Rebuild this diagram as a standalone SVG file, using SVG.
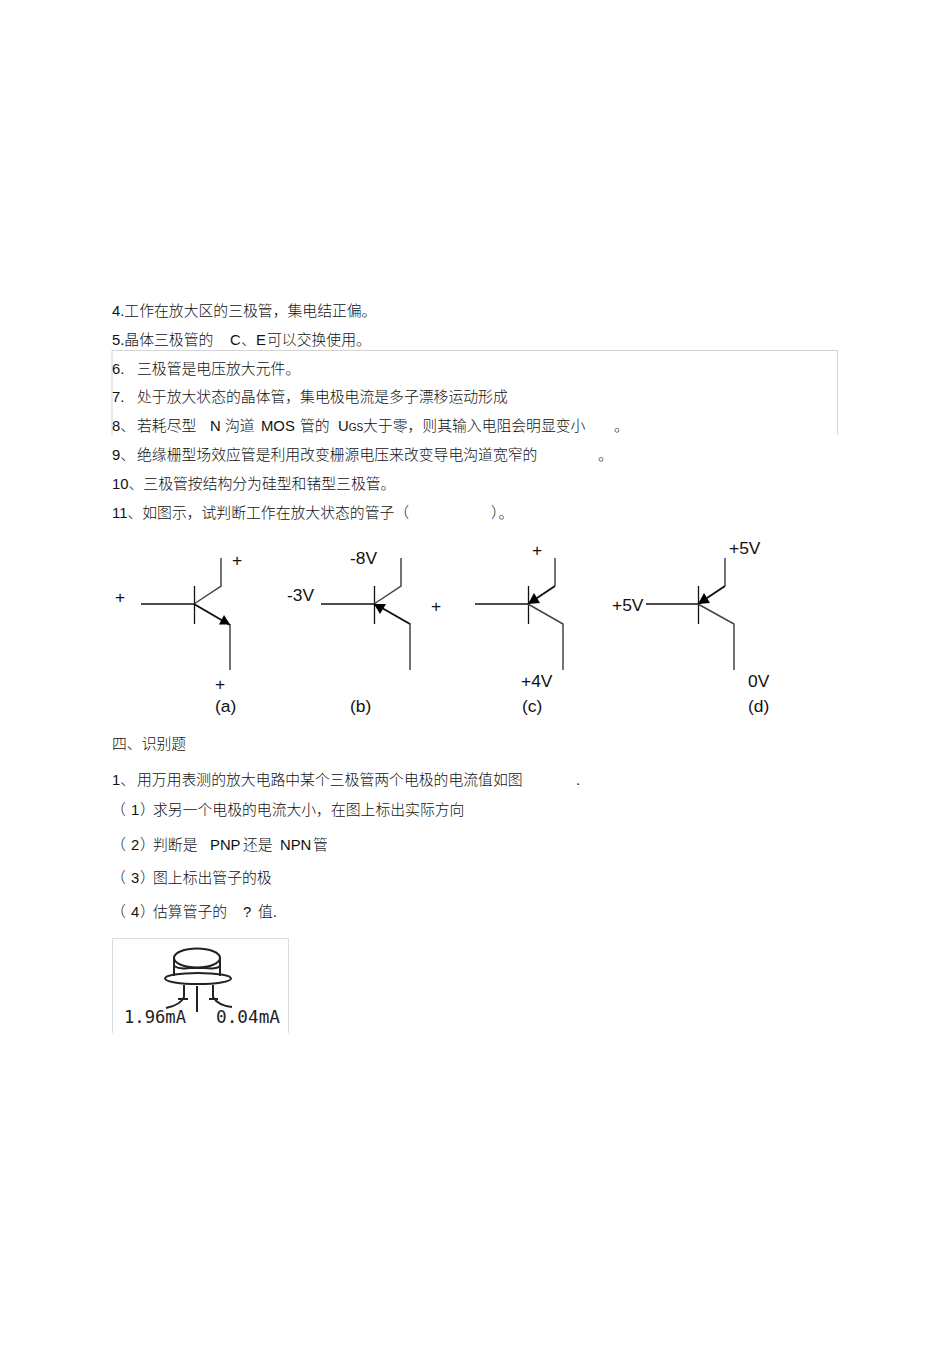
<svg xmlns="http://www.w3.org/2000/svg" width="950" height="1345" viewBox="0 0 950 1345">
<style>
text{font-family:"Liberation Sans","Noto Sans CJK SC",sans-serif;fill:#111}
.t{font-size:14.84px;font-weight:300}
.l{font-size:17.4px}
.w{fill:none;stroke:#444;stroke-width:1.5}
.b{fill:none;stroke:#111;stroke-width:1.3}
.k{fill:none;stroke:#111;stroke-width:2}
.a{fill:#000}
.i{fill:none;stroke:#222;stroke-width:2}
.m{font-family:"DejaVu Sans Mono","Liberation Mono",monospace;font-size:17px;fill:#222}
</style>
<rect width="950" height="1345" fill="#fff"/>
<g id="questions">
<text class="t" x="112" y="316">4.工作在放大区的三极管，集电结正偏。</text>
<text class="t" x="112" y="345">5.晶体三极管的<tspan x="230">C</tspan><tspan x="241">、</tspan><tspan x="256">E</tspan><tspan x="267">可以交换使用。</tspan></text>
<path d="M112 435V350.500H837.500V435" fill="none" stroke="#d4d4d4" stroke-width="1"/>
<text class="t" x="112" y="374">6.<tspan x="137">三极管是电压放大元件。</tspan></text>
<text class="t" x="112" y="402">7.<tspan x="137">处于放大状态的晶体管，集电极电流是多子漂移运动形成</tspan></text>
<text class="t" x="112" y="431">8、<tspan x="137">若耗尽型</tspan><tspan x="210">N</tspan><tspan x="225">沟道</tspan><tspan x="261">MOS</tspan><tspan x="300">管的</tspan><tspan x="338">U</tspan><tspan font-size="10">GS</tspan><tspan x="363">大于零，则其输入电阻会明显变小</tspan><tspan x="614">。</tspan></text>
<text class="t" x="112" y="460">9、<tspan x="137">绝缘栅型场效应管是利用改变栅源电压来改变导电沟道宽窄的</tspan><tspan x="598">。</tspan></text>
<text class="t" x="112" y="489">10、三极管按结构分为硅型和锗型三极管。</text>
<text class="t" x="112" y="518">11、如图示，试判断工作在放大状态的管子（<tspan x="491">）。</tspan></text>
</g>
<g id="connectors">
<g id="transistor-a"><path class="b" d="M141 604H194"/><path class="b" d="M194.500 586V624"/><path class="w" d="M194 604L221 586V558"/><path class="k" d="M194 604L230 625"/><path class="w" d="M230 624V670"/><path class="a" d="M230 624.500L219 624.500L224 615Z"/></g>
<g id="transistor-b"><path class="b" d="M321 604H374"/><path class="b" d="M374.500 586V624"/><path class="w" d="M374 604L401 586V558"/><path class="k" d="M375 604L410 624"/><path class="w" d="M410 623V670"/><path class="a" d="M374 604L386 604L380 614Z"/></g>
<g id="transistor-c"><path class="b" d="M475 604H528"/><path class="b" d="M528.500 586V624"/><path class="k" d="M528 604L555 586"/><path class="w" d="M555 586V558"/><path class="w" d="M528 604L563 624V670"/><path class="a" d="M528 604L534 593L540 603Z"/></g>
<g id="transistor-d"><path class="b" d="M646 604H698"/><path class="b" d="M698.500 586V624"/><path class="k" d="M698 604L725 586"/><path class="w" d="M725 586V558"/><path class="w" d="M698 604L734 624V670"/><path class="a" d="M698 604L704 593L710 603Z"/></g>
</g>
<g id="labels">
<text class="l" x="232" y="566">+</text>
<text class="l" x="115" y="603">+</text>
<text class="l" x="215" y="690">+</text>
<text class="l" x="215" y="712">(a)</text>
<text class="l" x="350" y="564">-8V</text>
<text class="l" x="287" y="601">-3V</text>
<text class="l" x="431" y="612">+</text>
<text class="l" x="350" y="712">(b)</text>
<text class="l" x="532" y="556">+</text>
<text class="l" x="521" y="687">+4V</text>
<text class="l" x="522" y="712">(c)</text>
<text class="l" x="729" y="554">+5V</text>
<text class="l" x="612" y="611">+5V</text>
<text class="l" x="748" y="687">0V</text>
<text class="l" x="748" y="712">(d)</text>
</g>
<g id="section">
<text class="t" x="112" y="749">四、识别题</text>
<text class="t" x="112" y="785">1、<tspan x="137">用万用表测的放大电路中某个三极管两个电极的电流值如图</tspan><tspan x="576">.</tspan></text>
<text class="t" x="111" y="815">（<tspan x="131">1</tspan><tspan x="140">）</tspan><tspan x="153">求另一个电极的电流大小，在图上标出实际方向</tspan></text>
<text class="t" x="111" y="850">（<tspan x="131">2</tspan><tspan x="140">）</tspan><tspan x="153">判断是</tspan><tspan x="210">PNP</tspan><tspan x="243">还是</tspan><tspan x="280">NPN</tspan><tspan x="313">管</tspan></text>
<text class="t" x="111" y="883">（<tspan x="131">3</tspan><tspan x="140">）</tspan><tspan x="153">图上标出管子的极</tspan></text>
<text class="t" x="111" y="917">（<tspan x="131">4</tspan><tspan x="140">）</tspan><tspan x="153">估算管子的</tspan><tspan x="243">?</tspan><tspan x="258">值.</tspan></text>
</g>
<g id="figure">
<path d="M112.500 1033V938.500H288.500V1033" fill="none" stroke="#ddd" stroke-width="1"/>
<ellipse class="i" cx="197" cy="958" rx="23" ry="9.500"/>
<path class="i" d="M174 958V976M220 958V976"/>
<path class="i" d="M174 966C180 970 186 968 190 968H204C210 968 216 970 220 966"/>
<ellipse class="i" cx="198" cy="978.500" rx="33" ry="5.500"/>
<path class="i" d="M184 985V997C182 1002 176 1006 166 1008M213 985V997C216 1002 222 1006 232 1007M197 986V1012M178 999H188M209 999H218"/>
<text class="m" x="124" y="1023" textLength="62" lengthAdjust="spacingAndGlyphs">1.96mA</text>
<text class="m" x="216" y="1023" textLength="64" lengthAdjust="spacingAndGlyphs">0.04mA</text>
</g>
</svg>
